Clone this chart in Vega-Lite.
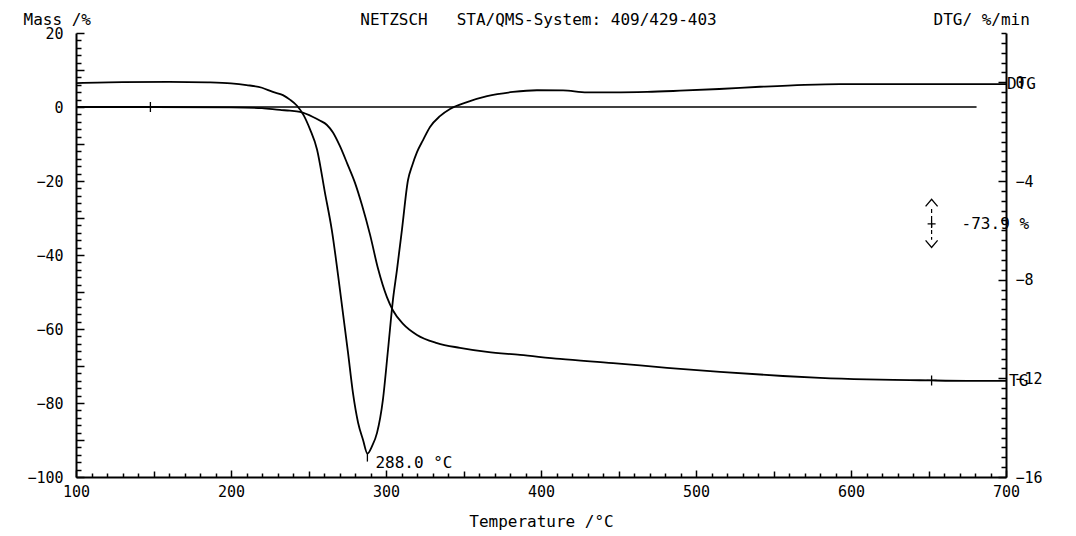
{
  "$schema": "https://vega.github.io/schema/vega-lite/v6.json",
  "width": 930,
  "height": 444,
  "autosize": {"type": "none"},
  "padding": {"left": 76, "top": 33, "right": 70, "bottom": 59},
  "background": "white",
  "datasets": {
    "tg": [
      {"T": 100, "mass": 0},
      {"T": 150, "mass": 0},
      {"T": 200, "mass": -0.1},
      {"T": 220, "mass": -0.3},
      {"T": 231.6, "mass": -0.8},
      {"T": 238, "mass": -1.0},
      {"T": 244.5, "mass": -1.35},
      {"T": 252.9, "mass": -2.7},
      {"T": 257, "mass": -3.6},
      {"T": 261.9, "mass": -4.86},
      {"T": 265.8, "mass": -6.9},
      {"T": 270.3, "mass": -10.6},
      {"T": 275, "mass": -15.3},
      {"T": 280, "mass": -20.5},
      {"T": 284.5, "mass": -26.5},
      {"T": 289.7, "mass": -34.5},
      {"T": 294.8, "mass": -43.6},
      {"T": 300.6, "mass": -51.4},
      {"T": 304.5, "mass": -55.0},
      {"T": 311, "mass": -58.6},
      {"T": 320, "mass": -61.6},
      {"T": 332.9, "mass": -63.8},
      {"T": 347.7, "mass": -65.1},
      {"T": 365.2, "mass": -66.2},
      {"T": 386.5, "mass": -67.0},
      {"T": 412.3, "mass": -68.1},
      {"T": 446.5, "mass": -69.2},
      {"T": 481.3, "mass": -70.5},
      {"T": 515.5, "mass": -71.6},
      {"T": 556.1, "mass": -72.7},
      {"T": 580, "mass": -73.2},
      {"T": 610.3, "mass": -73.6},
      {"T": 638, "mass": -73.8},
      {"T": 652, "mass": -73.9},
      {"T": 675, "mass": -74.0},
      {"T": 700, "mass": -74.0}
    ],
    "dtg": [
      {"T": 100, "dtg": -0.03},
      {"T": 130, "dtg": 0.01},
      {"T": 160, "dtg": 0.02},
      {"T": 185, "dtg": 0.0},
      {"T": 200, "dtg": -0.04},
      {"T": 210, "dtg": -0.11},
      {"T": 220, "dtg": -0.22},
      {"T": 227, "dtg": -0.39},
      {"T": 233.5, "dtg": -0.52},
      {"T": 238, "dtg": -0.7},
      {"T": 242.6, "dtg": -0.95},
      {"T": 247, "dtg": -1.35},
      {"T": 251, "dtg": -1.91},
      {"T": 255.5, "dtg": -2.72},
      {"T": 260.6, "dtg": -4.47},
      {"T": 265, "dtg": -5.97},
      {"T": 270.3, "dtg": -8.41},
      {"T": 275.5, "dtg": -10.96},
      {"T": 278.7, "dtg": -12.6},
      {"T": 282, "dtg": -13.8},
      {"T": 285.2, "dtg": -14.5},
      {"T": 288.0, "dtg": -15.05},
      {"T": 291, "dtg": -14.75},
      {"T": 294.2, "dtg": -14.21},
      {"T": 298, "dtg": -12.87},
      {"T": 301.3, "dtg": -10.84},
      {"T": 304.5, "dtg": -8.81},
      {"T": 307.1, "dtg": -7.59},
      {"T": 310.3, "dtg": -5.97},
      {"T": 314.2, "dtg": -3.96},
      {"T": 316.8, "dtg": -3.39},
      {"T": 320, "dtg": -2.83},
      {"T": 323.9, "dtg": -2.34},
      {"T": 328.4, "dtg": -1.81},
      {"T": 334.8, "dtg": -1.37},
      {"T": 341.3, "dtg": -1.08},
      {"T": 352.3, "dtg": -0.8},
      {"T": 365.2, "dtg": -0.56},
      {"T": 381.9, "dtg": -0.39},
      {"T": 397.4, "dtg": -0.32},
      {"T": 414.2, "dtg": -0.33},
      {"T": 429.7, "dtg": -0.41},
      {"T": 446.5, "dtg": -0.41},
      {"T": 468.4, "dtg": -0.39},
      {"T": 489.7, "dtg": -0.34},
      {"T": 515, "dtg": -0.27},
      {"T": 541.3, "dtg": -0.18},
      {"T": 570, "dtg": -0.1},
      {"T": 592.9, "dtg": -0.07},
      {"T": 650, "dtg": -0.07},
      {"T": 700, "dtg": -0.07}
    ],
    "zeroLine": [{"T": 100, "T2": 681, "mass": 0}],
    "stepMarks": [
      {"T": 148, "mass": 0},
      {"T": 652, "mass": -73.9}
    ],
    "stepSpan": [{"T": 652, "top": -27.6, "bottom": -35.9}],
    "stepArrows": [
      {"T": 652, "mass": -25.9, "part": "up"},
      {"T": 652, "mass": -31.6, "part": "mid"},
      {"T": 652, "mass": -37.0, "part": "down"}
    ],
    "stepLabel": [{"T": 652, "mass": -31.6, "label": "-73.9 %"}],
    "tgLabel": [{"T": 700, "mass": -74.0, "label": "TG"}],
    "dtgLabel": [{"T": 700, "dtg": -0.07, "label": "DTG"}],
    "peak": [{"T": 288.0, "dtg": -15.05, "label": "288.0 °C"}]
  },
  "layer": [
    {
      "data": {"name": "zeroLine"},
      "mark": {"type": "rule", "color": "black", "strokeWidth": 1.4},
      "encoding": {
        "x": {
          "field": "T",
          "type": "quantitative",
          "scale": {"domain": [100, 700], "nice": false, "zero": false},
          "axis": {
            "orient": "bottom",
            "title": null,
            "labels": false,
            "values": [100,110,120,130,140,150,160,170,180,190,200,210,220,230,240,250,260,270,280,290,300,310,320,330,340,350,360,370,380,390,400,410,420,430,440,450,460,470,480,490,500,510,520,530,540,550,560,570,580,590,600,610,620,630,640,650,660,670,680,690,700],
            "tickSize": {"expr": "datum.value % 100 == 0 ? -7 : (datum.value % 50 == 0 ? -6 : -4)"}
          }
        },
        "x2": {"field": "T2"},
        "y": {
          "field": "mass",
          "type": "quantitative",
          "scale": {"domain": [-100, 20], "nice": false, "zero": false},
          "axis": {
            "orient": "left",
            "title": "Mass /%",
            "titleAngle": 0,
            "titleAlign": "left",
            "titleBaseline": "alphabetic",
            "titleX": -53,
            "titleY": -9,
            "values": [-100,-98,-96,-94,-92,-90,-88,-86,-84,-82,-80,-78,-76,-74,-72,-70,-68,-66,-64,-62,-60,-58,-56,-54,-52,-50,-48,-46,-44,-42,-40,-38,-36,-34,-32,-30,-28,-26,-24,-22,-20,-18,-16,-14,-12,-10,-8,-6,-4,-2,0,2,4,6,8,10,12,14,16,18,20],
            "labelExpr": "datum.value % 20 == 0 ? format(datum.value, 'd') : ''",
            "labelOverlap": false,
            "tickSize": {"expr": "datum.value % 10 == 0 ? -8 : -5"},
            "labelPadding": 21
          }
        }
      }
    },
    {
      "data": {"name": "tg"},
      "mark": {"type": "line", "color": "black", "strokeWidth": 1.8, "interpolate": "monotone"},
      "encoding": {
        "x": {
          "field": "T",
          "type": "quantitative",
          "axis": {
            "orient": "bottom",
            "title": "Temperature /°C",
            "values": [100, 200, 300, 400, 500, 600, 700],
            "format": "d",
            "domain": false,
            "ticks": false,
            "labelOverlap": false,
            "labelPadding": 7,
            "titlePadding": 14
          }
        },
        "y": {"field": "mass", "type": "quantitative", "scale": {"domain": [-100, 20], "nice": false, "zero": false}, "axis": null}
      }
    },
    {
      "data": {"name": "stepMarks"},
      "mark": {"type": "point", "shape": "M-1,0L1,0M0,-1L0,1", "size": 100, "filled": false, "stroke": "black", "strokeWidth": 1.3, "opacity": 1},
      "encoding": {
        "x": {
          "field": "T",
          "type": "quantitative",
          "axis": {
            "orient": "top",
            "title": "NETZSCH\u00a0\u00a0\u00a0STA/QMS-System: 409/429-403",
            "domain": false,
            "ticks": false,
            "labels": false,
            "titleAngle": 0,
            "titleAlign": "center",
            "titleBaseline": "alphabetic",
            "titleX": 462,
            "titleY": -9
          }
        },
        "y": {"field": "mass", "type": "quantitative", "scale": {"domain": [-100, 20], "nice": false, "zero": false}, "axis": null}
      }
    },
    {
      "data": {"name": "stepSpan"},
      "mark": {"type": "rule", "color": "black", "strokeWidth": 1.2, "strokeDash": [4, 3]},
      "encoding": {
        "x": {"field": "T", "type": "quantitative", "axis": null},
        "y": {"field": "top", "type": "quantitative", "scale": {"domain": [-100, 20], "nice": false, "zero": false}, "axis": null},
        "y2": {"field": "bottom"}
      }
    },
    {
      "data": {"name": "stepArrows"},
      "transform": [{"filter": "datum.part == 'up'"}],
      "mark": {"type": "point", "shape": "M-1,0.6L0,-0.6L1,0.6", "size": 144, "filled": false, "stroke": "black", "strokeWidth": 1.3, "opacity": 1},
      "encoding": {
        "x": {"field": "T", "type": "quantitative", "axis": null},
        "y": {"field": "mass", "type": "quantitative", "scale": {"domain": [-100, 20], "nice": false, "zero": false}, "axis": null}
      }
    },
    {
      "data": {"name": "stepArrows"},
      "transform": [{"filter": "datum.part == 'down'"}],
      "mark": {"type": "point", "shape": "M-1,-0.6L0,0.6L1,-0.6", "size": 144, "filled": false, "stroke": "black", "strokeWidth": 1.3, "opacity": 1},
      "encoding": {
        "x": {"field": "T", "type": "quantitative", "axis": null},
        "y": {"field": "mass", "type": "quantitative", "scale": {"domain": [-100, 20], "nice": false, "zero": false}, "axis": null}
      }
    },
    {
      "data": {"name": "stepArrows"},
      "transform": [{"filter": "datum.part == 'mid'"}],
      "mark": {"type": "point", "shape": "M-1,0L1,0M0,-1L0,1", "size": 64, "filled": false, "stroke": "black", "strokeWidth": 1.3, "opacity": 1},
      "encoding": {
        "x": {"field": "T", "type": "quantitative", "axis": null},
        "y": {"field": "mass", "type": "quantitative", "scale": {"domain": [-100, 20], "nice": false, "zero": false}, "axis": null}
      }
    },
    {
      "data": {"name": "stepLabel"},
      "mark": {"type": "text", "align": "left", "baseline": "middle", "dx": 30, "font": "DejaVu Sans Mono", "fontSize": 16, "color": "black"},
      "encoding": {
        "x": {"field": "T", "type": "quantitative", "axis": null},
        "y": {"field": "mass", "type": "quantitative", "scale": {"domain": [-100, 20], "nice": false, "zero": false}, "axis": null},
        "text": {"field": "label"}
      }
    },
    {
      "data": {"name": "tgLabel"},
      "mark": {"type": "text", "align": "left", "baseline": "middle", "dx": 3, "font": "DejaVu Sans Mono", "fontSize": 16, "color": "black"},
      "encoding": {
        "x": {"field": "T", "type": "quantitative", "axis": null},
        "y": {"field": "mass", "type": "quantitative", "scale": {"domain": [-100, 20], "nice": false, "zero": false}, "axis": null},
        "text": {"field": "label"}
      }
    },
    {
      "data": {"name": "dtg"},
      "mark": {"type": "line", "color": "black", "strokeWidth": 1.8, "interpolate": "monotone"},
      "encoding": {
        "x": {"field": "T", "type": "quantitative", "axis": null},
        "y": {
          "field": "dtg",
          "type": "quantitative",
          "scale": {"domain": [-16, 2], "nice": false, "zero": false},
          "axis": {
            "orient": "right",
            "title": "DTG/ %/min",
            "titleAngle": 0,
            "titleAlign": "left",
            "titleBaseline": "alphabetic",
            "titleX": -73,
            "titleY": -9,
            "values": [-16,-15.6,-15.2,-14.8,-14.4,-14,-13.6,-13.2,-12.8,-12.4,-12,-11.6,-11.2,-10.8,-10.4,-10,-9.6,-9.2,-8.8,-8.4,-8,-7.6,-7.2,-6.8,-6.4,-6,-5.6,-5.2,-4.8,-4.4,-4,-3.6,-3.2,-2.8,-2.4,-2,-1.6,-1.2,-0.8,-0.4,0,0.4,0.8,1.2,1.6,2],
            "labelExpr": "abs(round(datum.value * 10) % 40) == 0 ? format(datum.value, 'd') : ''",
            "labelOverlap": false,
            "tickSize": {"expr": "abs(round(datum.value * 10) % 40) == 0 ? -8 : -5"},
            "labelPadding": 17
          }
        }
      }
    },
    {
      "data": {"name": "peak"},
      "mark": {"type": "point", "shape": "M0,0L0,1", "size": 256, "filled": false, "stroke": "black", "strokeWidth": 1.3, "opacity": 1},
      "encoding": {
        "x": {"field": "T", "type": "quantitative", "axis": null},
        "y": {"field": "dtg", "type": "quantitative", "scale": {"domain": [-16, 2], "nice": false, "zero": false}, "axis": null}
      }
    },
    {
      "data": {"name": "peak"},
      "mark": {"type": "text", "align": "left", "baseline": "top", "dx": 8, "dy": 1, "font": "DejaVu Sans Mono", "fontSize": 16, "color": "black"},
      "encoding": {
        "x": {"field": "T", "type": "quantitative", "axis": null},
        "y": {"field": "dtg", "type": "quantitative", "scale": {"domain": [-16, 2], "nice": false, "zero": false}, "axis": null},
        "text": {"field": "label"}
      }
    },
    {
      "data": {"name": "dtgLabel"},
      "mark": {"type": "text", "align": "left", "baseline": "middle", "dx": 1, "font": "DejaVu Sans Mono", "fontSize": 16, "color": "black"},
      "encoding": {
        "x": {"field": "T", "type": "quantitative", "axis": null},
        "y": {"field": "dtg", "type": "quantitative", "scale": {"domain": [-16, 2], "nice": false, "zero": false}, "axis": null},
        "text": {"field": "label"}
      }
    }
  ],
  "resolve": {"scale": {"y": "independent"}, "axis": {"x": "independent"}},
  "config": {
    "view": {"stroke": null},
    "font": "DejaVu Sans Mono",
    "axis": {
      "grid": false,
      "domainColor": "black",
      "domainWidth": 2,
      "tickColor": "black",
      "tickWidth": 1.5,
      "labelFont": "DejaVu Sans Mono",
      "labelFontSize": 15,
      "labelColor": "black",
      "labelFlush": false,
      "labelOverlap": false,
      "labelBound": false,
      "titleFont": "DejaVu Sans Mono",
      "titleFontSize": 16,
      "titleFontWeight": "normal",
      "titleColor": "black"
    }
  }
}
